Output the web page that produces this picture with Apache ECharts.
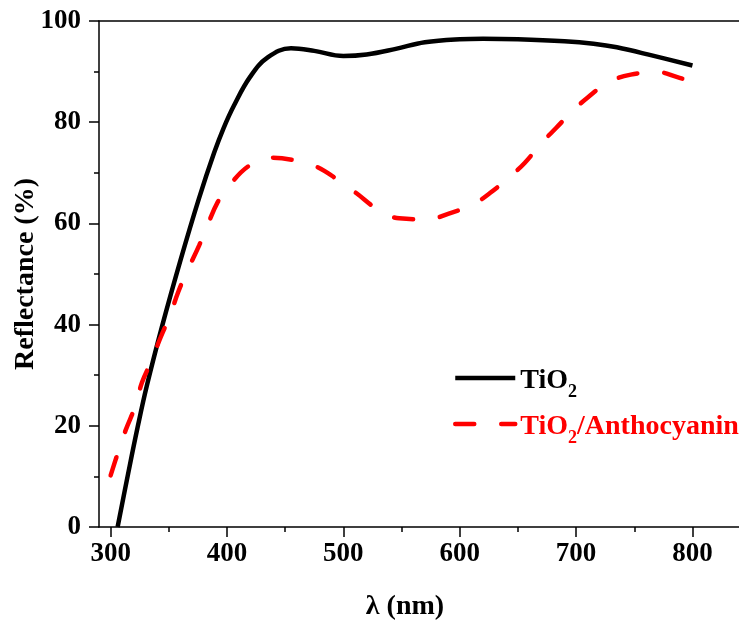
<!DOCTYPE html>
<html>
<head>
<meta charset="utf-8">
<script src="https://cdn.jsdelivr.net/npm/echarts@6/dist/echarts.min.js"></script>
<style>
  html, body { margin: 0; padding: 0; background: #fff; }
  #chart { width: 739px; height: 624px; }
</style>
</head>
<body>
<div id="chart"></div>
<script>
// Diffuse reflectance spectra (wavelength in nm, reflectance in %)
const tio2Wavelength = [306, 315, 323, 331, 344, 360, 376, 389, 397, 406, 420, 435, 455, 475, 500, 520, 545, 570, 600, 620, 650, 690, 715, 735, 765, 800];
const tio2Reflectance = [0, 10.5, 19.5, 27.8, 39.5, 52.7, 65, 74, 78.8, 83.3, 89, 92.8, 94.6, 94.1, 93.1, 93.4, 94.5, 95.8, 96.4, 96.5, 96.4, 96, 95.5, 94.8, 93.2, 91.2];

const anthoWavelength = [300, 306, 313, 321, 327, 335, 343, 351, 358, 366, 376, 383, 392, 402, 419, 437, 460, 477, 496, 511, 530, 548, 572, 590, 611, 626, 642, 656, 670, 683, 696, 710, 728, 747, 770, 787, 800];
const anthoReflectance = [10.2, 14.5, 19.2, 23.8, 28.6, 32.8, 37.5, 41.8, 46.4, 50.7, 55.6, 59.5, 64.2, 67.5, 71.4, 73, 72.4, 71.2, 68.5, 66, 62.7, 61, 60.8, 61.9, 63.7, 66, 69, 72, 75.8, 78.9, 82, 84.9, 87.9, 89.4, 89.9, 88.9, 88];

const xMajorTicks = [300, 400, 500, 600, 700, 800];
const xMinorTicks = [350, 450, 550, 650, 750];

const seriesNames = ['TiO2', 'TiO2/Anthocyanin'];

function pairs(xs, ys) {
  return xs.map((x, i) => [x, ys[i]]);
}

const FONT = '"Liberation Serif", "Times New Roman", serif';
const AXIS_COLOR = '#000';

const chart = echarts.init(document.getElementById('chart'), null, { renderer: 'canvas' });

const baseX = {
  type: 'value',
  min: 290,
  max: 840,
  splitLine: { show: false }
};

chart.setOption({
  animation: false,
  backgroundColor: '#fff',
  grid: { left: 99, right: 0, top: 21, bottom: 97, containLabel: false, outerBoundsMode: 'none' },
  xAxis: [
    Object.assign({}, baseX, {
      position: 'bottom',
      name: 'λ (nm)',
      nameLocation: 'middle',
      nameGap: 66,
      nameMoveOverlap: false,
      nameTextStyle: { fontFamily: FONT, fontWeight: 'bold', fontSize: 28, color: '#000', padding: [0, 28, 0, 0] },
      axisLine: { show: true, onZero: false, lineStyle: { color: AXIS_COLOR, width: 1.5 } },
      axisTick: { show: true, inside: false, length: 10, customValues: xMajorTicks, lineStyle: { color: AXIS_COLOR, width: 1.5 } },
      axisLabel: { show: true, customValues: xMajorTicks, margin: 14, fontFamily: FONT, fontWeight: 'bold', fontSize: 27, color: '#000' }
    }),
    Object.assign({}, baseX, {
      position: 'bottom',
      axisLine: { show: false },
      axisTick: { show: true, inside: false, length: 5, customValues: xMinorTicks, lineStyle: { color: AXIS_COLOR, width: 1.5 } },
      axisLabel: { show: false }
    }),
    Object.assign({}, baseX, {
      position: 'top',
      axisLine: { show: true, onZero: false, lineStyle: { color: AXIS_COLOR, width: 1.5 } },
      axisTick: { show: false },
      axisLabel: { show: false }
    })
  ],
  yAxis: {
    type: 'value',
    min: 0,
    max: 100,
    interval: 20,
    name: 'Reflectance (%)',
    nameLocation: 'middle',
    nameGap: 59,
    nameMoveOverlap: false,
    nameTextStyle: { fontFamily: FONT, fontWeight: 'bold', fontSize: 28, color: '#000' },
    axisLine: { show: true, onZero: false, lineStyle: { color: AXIS_COLOR, width: 1.5 } },
    axisTick: { show: true, inside: false, length: 10, lineStyle: { color: AXIS_COLOR, width: 1.5 } },
    minorTick: { show: true, splitNumber: 2, length: 5, lineStyle: { color: AXIS_COLOR, width: 1.5 } },
    axisLabel: { margin: 18, fontFamily: FONT, fontWeight: 'bold', fontSize: 27, color: '#000' },
    splitLine: { show: false }
  },
  legend: {
    orient: 'vertical',
    left: 453,
    top: 367,
    padding: 0,
    itemWidth: 60,
    itemHeight: 14,
    itemGap: 12,
    itemStyle: { opacity: 0 },
    lineStyle: { width: 4.5 },
    data: [
      { name: seriesNames[0] },
      { name: seriesNames[1] }
    ],
    formatter: function (name) {
      if (name === seriesNames[0]) return '{tb|TiO}{sb|2}';
      return '{tr|TiO}{sr|2}{tr|/Anthocyanin}';
    },
    textStyle: {
      fontFamily: FONT,
      fontWeight: 'bold',
      fontSize: 28,
      rich: {
        tb: { fontFamily: FONT, fontWeight: 'bold', fontSize: 28, color: '#000', verticalAlign: 'bottom', lineHeight: 34 },
        sb: { fontFamily: FONT, fontWeight: 'bold', fontSize: 18, color: '#000', verticalAlign: 'bottom', lineHeight: 24, padding: [0, 0, -6, 0] },
        tr: { fontFamily: FONT, fontWeight: 'bold', fontSize: 28, color: '#ff0000', verticalAlign: 'bottom', lineHeight: 34 },
        sr: { fontFamily: FONT, fontWeight: 'bold', fontSize: 18, color: '#ff0000', verticalAlign: 'bottom', lineHeight: 24, padding: [0, 0, -6, 0] }
      }
    }
  },
  series: [
    {
      name: seriesNames[0],
      type: 'line',
      xAxisIndex: 0,
      data: pairs(tio2Wavelength, tio2Reflectance),
      smooth: 0.4,
      symbol: 'none',
      showSymbol: false,
      clip: true,
      color: '#000',
      lineStyle: { color: '#000', width: 4.5 }
    },
    {
      name: seriesNames[1],
      type: 'line',
      xAxisIndex: 0,
      data: pairs(anthoWavelength, anthoReflectance),
      smooth: 0.4,
      symbol: 'none',
      showSymbol: false,
      clip: true,
      color: '#ff0000',
      lineStyle: { color: '#ff0000', width: 4.5, type: [19, 27], cap: 'round' }
    }
  ]
});
</script>
</body>
</html>
